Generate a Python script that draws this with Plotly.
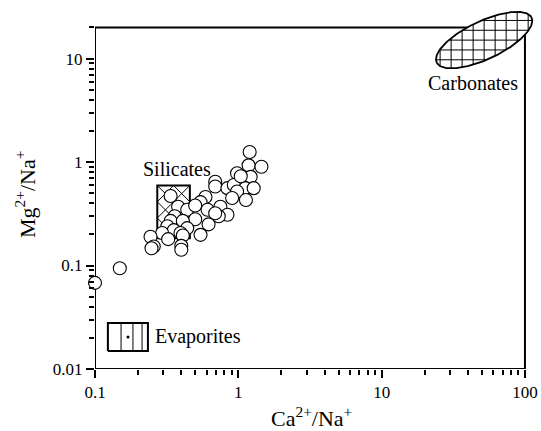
import numpy as np
import plotly.graph_objects as go

# ---- data ----
ca_na = [1.20, 1.18, 1.45, 0.98, 1.22, 0.69, 0.69, 0.84, 0.93, 1.12, 1.28, 0.98, 0.905, 1.13,
         0.59, 0.545, 0.337, 0.38, 0.44, 0.50, 0.61, 0.75, 0.84, 0.73, 0.69, 0.50, 0.62, 0.545,
         0.36, 0.337, 0.41, 0.32, 0.44, 0.355, 0.294, 0.395, 0.244, 0.41, 0.324, 0.257, 0.248,
         0.40, 0.40, 0.149, 0.10, 1.04]
mg_na = [1.25, 0.93, 0.90, 0.78, 0.72, 0.645, 0.58, 0.56, 0.60, 0.56, 0.56, 0.52, 0.45, 0.43,
         0.46, 0.41, 0.47, 0.37, 0.346, 0.38, 0.346, 0.37, 0.31, 0.30, 0.32, 0.28, 0.25, 0.198,
         0.30, 0.27, 0.27, 0.24, 0.23, 0.22, 0.206, 0.206, 0.19, 0.195, 0.18, 0.153, 0.147,
         0.155, 0.142, 0.094, 0.068, 0.73]

x_tickvals = [0.1, 1, 10, 100]
x_ticktext = ["0.1", "1", "10", "100"]
y_tickvals = [0.01, 0.1, 1, 10]
y_ticktext = ["0.01", "0.1", "1", "10"]
x_minor = [m * 10.0 ** e for e in (-1, 0, 1) for m in range(2, 10)]
y_minor = [m * 10.0 ** e for e in (-2, -1, 0) for m in range(2, 10)] + [20]

frame_x = [0.1, 100]
frame_y = [0.01, 20]

# end-member fields
sil_x = [0.272, 0.459]
sil_y = [0.184, 0.594]
eva_x = [0.123, 0.234]
eva_y = [0.0149, 0.0279]
eva_dot = [0.170, 0.0204]
eva_hatch_x = [0.152, 0.184, 0.213]
carb_center = [51.9, 15.1]
carb_major = [0.331, 0.217]   # semi-axis vector, in decades
carb_minor = [0.057, -0.166]  # semi-axis vector, in decades

labels = [
    ("Silicates", 0.372, 0.857, "center"),
    ("Carbonates", 43.3, 5.8, "center"),
    ("Evaporites", 0.254, 0.0204, "left"),
]

FONT = "Liberation Serif, Times New Roman, Times, serif"
HATCH = dict(color="black", width=1)

fig = go.Figure()


def rect(xs, ys):
    return [xs[0], xs[1], xs[1], xs[0], xs[0]], [ys[0], ys[0], ys[1], ys[1], ys[0]]


def segments(lxs, lys, inside):
    """Turn sampled log-space lines into data-space polylines, keeping inside parts."""
    out_x, out_y = [], []
    for lx, ly in zip(lxs, lys):
        m = inside(lx, ly)
        run = False
        for a, b, k in zip(lx, ly, m):
            if k:
                out_x.append(10 ** a)
                out_y.append(10 ** b)
                run = True
            elif run:
                out_x.append(None)
                out_y.append(None)
                run = False
        if run:
            out_x.append(None)
            out_y.append(None)
    return out_x, out_y


# ---- Carbonates ellipse ----
C = np.log10(np.array(carb_center))
M = np.array([[carb_major[0], carb_minor[0]], [carb_major[1], carb_minor[1]]])
Minv = np.linalg.inv(M)
t = np.linspace(0, 2 * np.pi, 241)
elx = C[0] + M[0, 0] * np.cos(t) + M[0, 1] * np.sin(t)
ely = C[1] + M[1, 0] * np.cos(t) + M[1, 1] * np.sin(t)
fig.add_trace(go.Scatter(x=10 ** elx, y=10 ** ely, mode="lines", fill="toself",
                         line=dict(color="black", width=1.8), fillcolor="white",
                         hoverinfo="skip", showlegend=False))


def in_ellipse(lx, ly):
    d = np.vstack([lx - C[0], ly - C[1]])
    uv = Minv @ d
    return (uv ** 2).sum(axis=0) <= 0.985


s = np.linspace(-0.6, 0.6, 900)
gx_step, gy_step = 0.0768, 0.095
lines_x, lines_y = [], []
for k in range(-8, 9):
    lines_x.append(np.full_like(s, C[0] + k * gx_step))
    lines_y.append(C[1] + s)
    lines_x.append(C[0] + s)
    lines_y.append(np.full_like(s, C[1] + k * gy_step))
hx, hy = segments(lines_x, lines_y, in_ellipse)
fig.add_trace(go.Scatter(x=hx, y=hy, mode="lines", line=HATCH,
                         hoverinfo="skip", showlegend=False))

# ---- Silicates box (diagonal cross-hatch) ----
sx, sy = rect(sil_x, sil_y)
fig.add_trace(go.Scatter(x=sx, y=sy, mode="lines", fill="toself",
                         line=dict(color="black", width=2), fillcolor="white",
                         hoverinfo="skip", showlegend=False))
slx = np.log10(sil_x)
sly = np.log10(sil_y)


def in_sil(lx, ly):
    return (lx >= slx[0]) & (lx <= slx[1]) & (ly >= sly[0]) & (ly <= sly[1])


slope = 143.3 / 103.46  # 45 degrees on screen
step = (slx[1] - slx[0]) / 2
u = np.linspace(-1.0, 1.0, 900)
lines_x, lines_y = [], []
for k in range(-6, 9):
    x0 = slx[0] + k * step
    lines_x.append(x0 + u)
    lines_y.append(sly[1] - slope * u)
    lines_x.append(x0 + u)
    lines_y.append(sly[1] + slope * u)
hx, hy = segments(lines_x, lines_y, in_sil)
fig.add_trace(go.Scatter(x=hx, y=hy, mode="lines", line=HATCH,
                         hoverinfo="skip", showlegend=False))

# ---- Evaporites box (vertical hatch + dot) ----
ex, ey = rect(eva_x, eva_y)
fig.add_trace(go.Scatter(x=ex, y=ey, mode="lines", fill="toself",
                         line=dict(color="black", width=2), fillcolor="white",
                         hoverinfo="skip", showlegend=False))
vx, vy = [], []
for xv in eva_hatch_x:
    vx += [xv, xv, None]
    vy += [eva_y[0], eva_y[1], None]
fig.add_trace(go.Scatter(x=vx, y=vy, mode="lines", line=HATCH,
                         hoverinfo="skip", showlegend=False))
fig.add_trace(go.Scatter(x=[eva_dot[0]], y=[eva_dot[1]], mode="markers",
                         marker=dict(color="black", size=3),
                         hoverinfo="skip", showlegend=False))

# ---- Samples ----
fig.add_trace(go.Scatter(x=ca_na, y=mg_na, mode="markers", cliponaxis=False,
                         marker=dict(size=13, color="white",
                                     line=dict(color="black", width=1.1)),
                         showlegend=False))

# ---- frame ----
for (x0, y0, x1, y1) in [
    (frame_x[0], frame_y[0], frame_x[1], frame_y[0]),
    (frame_x[0], frame_y[0], frame_x[0], frame_y[1]),
    (frame_x[0], frame_y[1], frame_x[1], frame_y[1]),
    (frame_x[1], frame_y[0], frame_x[1], frame_y[1]),
]:
    fig.add_shape(type="line", xref="x", yref="y", x0=x0, y0=y0, x1=x1, y1=y1,
                  line=dict(color="black", width=2), layer="below")

for text, x, y, anchor in labels:
    fig.add_annotation(x=np.log10(x), y=np.log10(y), text=text, showarrow=False,
                       xanchor=anchor, yanchor="middle",
                       font=dict(family=FONT, size=20, color="black"))

# axis titles
fig.add_annotation(xref="paper", yref="paper", x=0.49, y=-0.134,
                   text="Ca<sup>2+</sup>/Na<sup>+</sup>", showarrow=False,
                   xanchor="center", yanchor="middle",
                   font=dict(family=FONT, size=22, color="black"))
fig.add_annotation(xref="paper", yref="paper", x=-0.158, y=0.485,
                   text="Mg<sup>2+</sup>/Na<sup>+</sup>", showarrow=False, textangle=-90,
                   xanchor="center", yanchor="middle",
                   font=dict(family=FONT, size=22, color="black"))

axis_common = dict(type="log", showgrid=False, zeroline=False, showline=False,
                   ticks="outside", ticklen=8, tickwidth=2, tickcolor="black",
                   tickfont=dict(family=FONT, size=17, color="black"))

fig.update_xaxes(range=[-1, 2.084], tickvals=x_tickvals, ticktext=x_ticktext,
                 minor=dict(tickvals=x_minor, ticks="outside", ticklen=5, tickwidth=1.5,
                            tickcolor="black"),
                 **axis_common)
fig.update_yaxes(range=[-2, 1.47], tickvals=y_tickvals, ticktext=y_ticktext,
                 minor=dict(tickvals=y_minor, ticks="outside", ticklen=5, tickwidth=1.5,
                            tickcolor="black"),
                 **axis_common)

fig.update_layout(width=541, height=431, margin=dict(l=95, r=4, t=10, b=62),
                  paper_bgcolor="white", plot_bgcolor="white",
                  font=dict(family=FONT, color="black"))

fig.write_html("out.html")
